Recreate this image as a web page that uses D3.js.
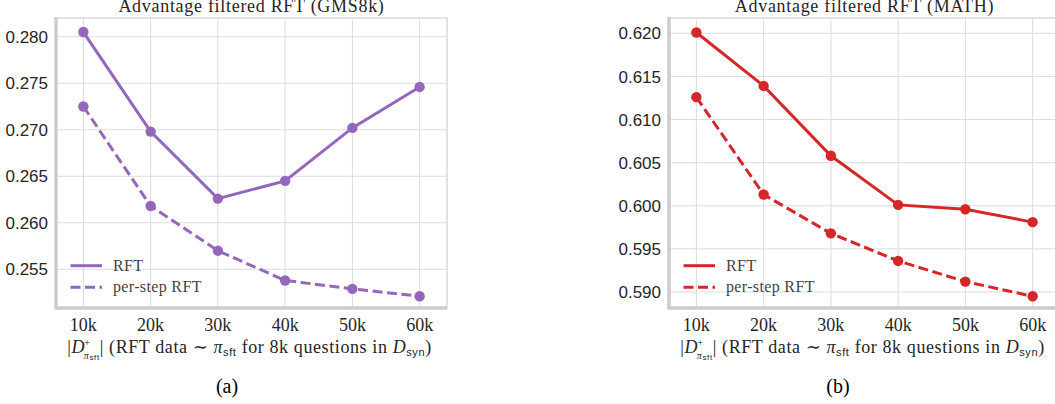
<!DOCTYPE html>
<html>
<head>
<meta charset="utf-8">
<script src="https://cdn.jsdelivr.net/npm/d3@7"></script>
<style>
  body { margin: 0; background: #fff; }
  svg { display: block; }
  .lserif { font-family: "Liberation Serif", "DejaVu Serif", serif; }
  .sans { font-family: "Liberation Sans", Arial, sans-serif; }
</style>
</head>
<body>
<svg class="chart" width="1055" height="404"></svg>
<script>
// data
var sizes = [10, 20, 30, 40, 50, 60];
var xTickLabels = ["10k", "20k", "30k", "40k", "50k", "60k"];

var gsmRft = [0.2805, 0.2698, 0.2626, 0.2645, 0.2702, 0.2746];
var gsmPerStep = [0.2725, 0.2618, 0.2570, 0.2538, 0.2529, 0.2521];
var gsmTicks = [0.255, 0.260, 0.265, 0.270, 0.275, 0.280];

var mathRft = [0.6201, 0.6139, 0.6058, 0.6001, 0.5996, 0.5981];
var mathPerStep = [0.6126, 0.6013, 0.5968, 0.5936, 0.5912, 0.5895];
var mathTicks = [0.590, 0.595, 0.600, 0.605, 0.610, 0.615, 0.620];

var textColor = "#262626";

var svg = d3.select(".chart");

function drawPanel(opts) {
    var left = opts.left, right = opts.left + 391, top = 18, bottom = 308;

    var x = d3.scaleLinear()
        .domain([10 - 4.07, 60 + 4.07])
        .range([left, right]);
    var y = d3.scaleLinear()
        .domain(opts.yDomain)
        .range([bottom, top]);

    var g = svg.append("g");

    // frame + grid
    g.append("rect")
        .attr("x", left).attr("y", top)
        .attr("width", right - left).attr("height", bottom - top)
        .attr("fill", "none")
        .attr("stroke", "#d9d9d9")
        .attr("stroke-width", 1.5);

    g.selectAll(".vgrid")
        .data(sizes)
        .enter().append("line")
        .attr("x1", function(d) { return x(d); })
        .attr("x2", function(d) { return x(d); })
        .attr("y1", top).attr("y2", bottom)
        .attr("stroke", "#dcdcdc")
        .attr("stroke-width", 1);

    g.selectAll(".hgrid")
        .data(opts.yTicks)
        .enter().append("line")
        .attr("x1", left).attr("x2", right)
        .attr("y1", function(d) { return y(d); })
        .attr("y2", function(d) { return y(d); })
        .attr("stroke", "#dcdcdc")
        .attr("stroke-width", 1);

    // thick left / bottom spines
    g.append("line")
        .attr("x1", left).attr("x2", left)
        .attr("y1", top - 1).attr("y2", bottom + 1.5)
        .attr("stroke", "#cccccc").attr("stroke-width", 3.5);
    g.append("line")
        .attr("x1", left).attr("x2", right)
        .attr("y1", bottom).attr("y2", bottom)
        .attr("stroke", "#cccccc").attr("stroke-width", 3.5);

    // y tick labels
    g.selectAll(".ylab")
        .data(opts.yTicks)
        .enter().append("text")
        .attr("class", "sans")
        .attr("x", left - 8)
        .attr("y", function(d) { return y(d); })
        .attr("dy", "0.36em")
        .attr("text-anchor", "end")
        .attr("font-size", 17)
        .attr("fill", textColor)
        .text(function(d) { return d3.format(".3f")(d); });

    // x tick labels
    g.selectAll(".xlab")
        .data(sizes)
        .enter().append("text")
        .attr("class", "lserif")
        .attr("x", function(d) { return x(d); })
        .attr("y", 331)
        .attr("text-anchor", "middle")
        .attr("font-size", 18)
        .attr("fill", textColor)
        .text(function(d, i) { return xTickLabels[i]; });

    // title (cut off at the top edge, as in the original)
    g.append("text")
        .attr("class", "lserif")
        .attr("x", (left + right) / 2)
        .attr("y", 12)
        .attr("text-anchor", "middle")
        .attr("font-size", 18)
        .attr("letter-spacing", 0.7)
        .attr("fill", textColor)
        .text(opts.title);

    // x axis label
    var xl = g.append("text")
        .attr("class", "lserif")
        .attr("x", (left + right) / 2 - 2)
        .attr("y", 353)
        .attr("text-anchor", "middle")
        .attr("font-size", 18)
        .attr("letter-spacing", 0.6)
        .attr("fill", textColor);
    xl.append("tspan").text("|");
    xl.append("tspan").attr("font-style", "italic").text("D");
    xl.append("tspan").attr("font-size", 11).attr("dy", -7).attr("dx", -1).text("+");
    xl.append("tspan").attr("font-size", 10).attr("dy", 13).attr("dx", -7).attr("font-style", "italic").text("π");
    xl.append("tspan").attr("class", "sans").attr("font-size", 8).attr("dy", 1).text("sft");
    xl.append("tspan").attr("dy", -7).text("| (RFT data ∼ ");
    xl.append("tspan").attr("font-style", "italic").text("π");
    xl.append("tspan").attr("class", "sans").attr("font-size", 11).attr("dy", 3).text("sft");
    xl.append("tspan").attr("dy", -3).text(" for 8k questions in ");
    xl.append("tspan").attr("font-style", "italic").text("D");
    xl.append("tspan").attr("class", "sans").attr("font-size", 11).attr("dy", 3).text("syn");
    xl.append("tspan").attr("dy", -3).text(")");

    // caption
    g.append("text")
        .attr("class", "lserif")
        .attr("x", opts.captionX)
        .attr("y", 393)
        .attr("text-anchor", "middle")
        .attr("font-size", 20)
        .attr("fill", "#000")
        .text(opts.caption);

    var line = d3.line()
        .x(function(d, i) { return x(sizes[i]); })
        .y(function(d) { return y(d); });

    var series = [
        { values: opts.rft, dash: null },
        { values: opts.perStep, dash: "10,4.5" }
    ];

    series.forEach(function(s) {
        g.append("path")
            .datum(s.values)
            .attr("d", line)
            .attr("fill", "none")
            .attr("stroke", opts.color)
            .attr("stroke-width", 3)
            .attr("stroke-dasharray", s.dash);

        g.selectAll(null)
            .data(s.values)
            .enter().append("circle")
            .attr("cx", function(d, i) { return x(sizes[i]); })
            .attr("cy", function(d) { return y(d); })
            .attr("r", 5.2)
            .attr("fill", opts.color);
    });

    // legend
    var legend = g.append("g");
    var names = ["RFT", "per-step RFT"];
    names.forEach(function(name, i) {
        var ly = 265.7 + i * 21.6;
        legend.append("line")
            .attr("x1", left + 14.5).attr("x2", left + 46)
            .attr("y1", ly).attr("y2", ly)
            .attr("stroke", opts.color)
            .attr("stroke-width", 3)
            .attr("stroke-dasharray", i === 1 ? "10,4.5" : null);
        legend.append("text")
            .attr("class", "lserif")
            .attr("x", left + 57)
            .attr("y", ly + 5)
            .attr("font-size", 16)
            .attr("letter-spacing", 0.35)
            .attr("fill", "#444")
            .text(name);
    });
}

drawPanel({
    left: 56,
    yDomain: [0.25084, 0.28201],
    yTicks: gsmTicks,
    rft: gsmRft,
    perStep: gsmPerStep,
    color: "#9467bd",
    title: "Advantage filtered RFT (GMS8k)",
    caption: "(a)",
    captionX: 227
});

drawPanel({
    left: 669,
    yDomain: [0.58814, 0.62178],
    yTicks: mathTicks,
    rft: mathRft,
    perStep: mathPerStep,
    color: "#d62728",
    title: "Advantage filtered RFT (MATH)",
    caption: "(b)",
    captionX: 838
});
</script>
</body>
</html>
